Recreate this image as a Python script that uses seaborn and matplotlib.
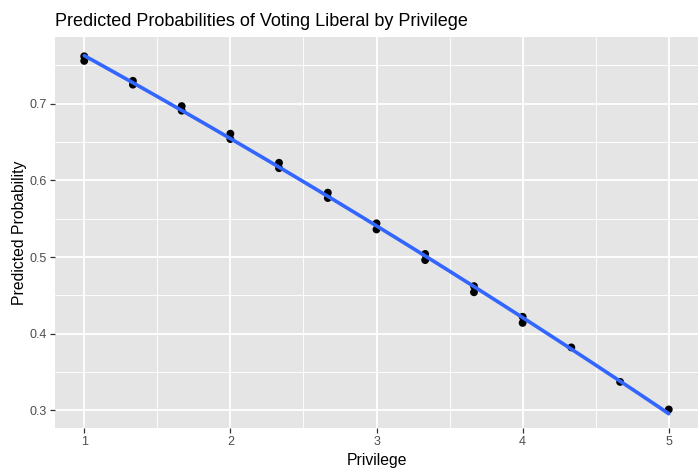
import numpy as np
import pandas as pd
import matplotlib
matplotlib.use("Agg")
import matplotlib.pyplot as plt
import seaborn as sns
from matplotlib.ticker import MultipleLocator

# ---- data ----
privilege = [1.0, 1.0, 1.333, 1.333, 1.667, 1.667, 2.0, 2.0, 2.333, 2.333,
             2.667, 2.667, 3.0, 3.0, 3.333, 3.333, 3.667, 3.667, 4.0, 4.0,
             4.333, 4.667, 5.0]
pred_prob = [0.762, 0.756, 0.730, 0.725, 0.697, 0.691, 0.661, 0.654, 0.623, 0.616,
             0.584, 0.577, 0.544, 0.536, 0.504, 0.496, 0.462, 0.454, 0.422, 0.414,
             0.382, 0.337, 0.301]
x_ticks = [1, 2, 3, 4, 5]
y_ticks = [0.3, 0.4, 0.5, 0.6, 0.7]
y_tick_labels = ["0.3", "0.4", "0.5", "0.6", "0.7"]

title = "Predicted Probabilities of Voting Liberal by Privilege"
x_label = "Privilege"
y_label = "Predicted Probability"

df = pd.DataFrame({"Privilege": privilege, "Prob": pred_prob})

sns.set_theme(style="darkgrid")
plt.rcParams["font.family"] = ["Liberation Sans", "DejaVu Sans"]

W, H = 698, 470
fig = plt.figure(figsize=(W / 100, H / 100), dpi=100)
left, right, top, bottom = 55, 698, 37, 428
ax = fig.add_axes([left / W, 1 - bottom / H, (right - left) / W, (bottom - top) / H])
ax.set_facecolor("#E5E5E5")

sns.scatterplot(data=df, x="Privilege", y="Prob", ax=ax, color="black",
                s=32, edgecolor="none", zorder=3)
sns.regplot(data=df, x="Privilege", y="Prob", ax=ax, scatter=False, ci=50,
            order=2, n_boot=2000, seed=3,
            color="#3366FF", line_kws={"linewidth": 2.6, "zorder": 4}, truncate=True)
for coll in ax.collections:
    if coll.__class__.__name__ in ("PolyCollection", "FillBetweenPolyCollection"):
        coll.set_facecolor("#999999")
        coll.set_alpha(0.4)
        coll.set_edgecolor("none")
        coll.set_zorder(3.5)

ax.set_xlim(0.8, 5.2)
ax.set_ylim(0.2768, 0.7872)
ax.set_xticks(x_ticks)
ax.set_xticklabels([str(t) for t in x_ticks])
ax.set_yticks(y_ticks)
ax.set_yticklabels(y_tick_labels)
ax.xaxis.set_minor_locator(MultipleLocator(0.5))
ax.yaxis.set_minor_locator(MultipleLocator(0.05))

ax.grid(which="major", color="white", linewidth=1.3)
ax.grid(which="minor", color="white", linewidth=0.65)
ax.set_axisbelow(True)
for s in ax.spines.values():
    s.set_visible(False)

ax.tick_params(axis="both", which="major", length=3.5, width=0.9, color="#333333",
               labelsize=9, labelcolor="#4D4D4D", pad=2.5, bottom=True, left=True)
ax.tick_params(axis="both", which="minor", length=0)

ax.set_xlabel(x_label, fontsize=11.3, color="black", labelpad=3)
ax.set_ylabel(y_label, fontsize=11.3, color="black", labelpad=2)

fig.text(left / W, 1 - 26 / H, title, fontsize=13, color="black",
         ha="left", va="baseline")

fig.savefig("out.png", dpi=100)
